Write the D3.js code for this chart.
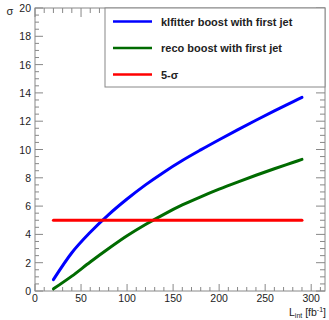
<!DOCTYPE html>
<html><head><meta charset="utf-8">
<script src="https://cdn.jsdelivr.net/npm/d3@7"></script>
<style>body{margin:0;background:#fff}svg{display:block;font-family:"Liberation Sans",Arial,sans-serif}</style>
</head><body><svg id="c" width="329" height="320"></svg>
<script>
const lumi = [20,40,60,80,100,120,140,160,180,200,220,240,260,280,290];
const klfitter = [0.8,2.7,4.15,5.4,6.5,7.5,8.4,9.22,9.97,10.69,11.39,12.07,12.73,13.37,13.69];
const reco = [0.15,1.05,2.05,3.0,3.9,4.7,5.42,6.08,6.66,7.2,7.7,8.18,8.64,9.08,9.3];
const fiveSigma = [5,5,5,5,5,5,5,5,5,5,5,5,5,5,5];
const xTicks = [0,50,100,150,200,250,300];
const yTicks = [0,2,4,6,8,10,12,14,16,18,20];
const legendLabels = ["klfitter boost with first jet","reco boost with first jet","5-σ"];
const colors = ["#0000ff","#006b00","#ff0000"];

const svg = d3.select("#c");
const L=35,R=325,T=8,B=291;
const x = d3.scaleLinear().domain([0,315]).range([L,R]);
const y = d3.scaleLinear().domain([0,20]).range([B,T]);
const axisCol="#888", txt="#222";

svg.append("rect").attr("x",L).attr("y",T).attr("width",R-L).attr("height",B-T)
  .attr("fill","none").attr("stroke",axisCol).attr("stroke-width",1);

const g = svg.append("g").attr("stroke",axisCol).attr("stroke-width",1);
const xMinor = d3.range(0,316,10);
const yMinor = d3.range(0,20.01,0.5);
xMinor.forEach(v=>{
  const big = v%50===0; const len = big?7:4;
  g.append("line").attr("x1",x(v)).attr("x2",x(v)).attr("y1",B).attr("y2",B-len);
  g.append("line").attr("x1",x(v)).attr("x2",x(v)).attr("y1",T).attr("y2",T+(big?9:5));
});
yMinor.forEach(v=>{
  const big = Math.abs(v%2)<1e-6; const len = big?8:4;
  g.append("line").attr("x1",L).attr("x2",L+len).attr("y1",y(v)).attr("y2",y(v));
  g.append("line").attr("x1",R).attr("x2",R-(big?9:5)).attr("y1",y(v)).attr("y2",y(v));
});

svg.append("g").selectAll("text").data(xTicks).join("text")
  .attr("x",d=>x(d)).attr("y",B+11).attr("text-anchor","middle")
  .attr("font-size",10.5).attr("fill",txt).text(d=>d);
svg.append("g").selectAll("text").data(yTicks).join("text")
  .attr("x",L-4).attr("y",d=>y(d)+4).attr("text-anchor","end")
  .attr("font-size",10.5).attr("fill",txt).text(d=>d);

svg.append("text").attr("x",10).attr("y",15).attr("text-anchor","middle")
  .attr("font-size",11).attr("fill",txt).text("σ");
const xt = svg.append("text").attr("x",326).attr("y",316).attr("text-anchor","end")
  .attr("font-size",10.5).attr("fill",txt);
xt.append("tspan").text("L");
xt.append("tspan").attr("font-size",7).attr("dy",2).text("int");
xt.append("tspan").attr("dy",-2).text(" [fb");
xt.append("tspan").attr("font-size",7).attr("dy",-4).text("-1");
xt.append("tspan").attr("dy",4).text("]");

const line = d3.line().x((d,i)=>x(lumi[i])).y(d=>y(d)).curve(d3.curveMonotoneX);
[klfitter,reco,fiveSigma].forEach((s,i)=>{
  svg.append("path").attr("d",line(s)).attr("fill","none")
    .attr("stroke",colors[i]).attr("stroke-width",3).attr("stroke-linecap","round");
});

svg.append("rect").attr("x",105).attr("y",T).attr("width",R-105).attr("height",79)
  .attr("fill","#fff").attr("stroke",axisCol).attr("stroke-width",1);
const rows=[21.5,48,74.5];
legendLabels.forEach((lab,i)=>{
  svg.append("line").attr("x1",113).attr("x2",152).attr("y1",rows[i]).attr("y2",rows[i])
    .attr("stroke",colors[i]).attr("stroke-width",2.5);
  svg.append("text").attr("x",161).attr("y",rows[i]+4).attr("font-size",11)
    .attr("font-weight","bold").attr("fill",txt).text(lab);
});
</script></body></html>
